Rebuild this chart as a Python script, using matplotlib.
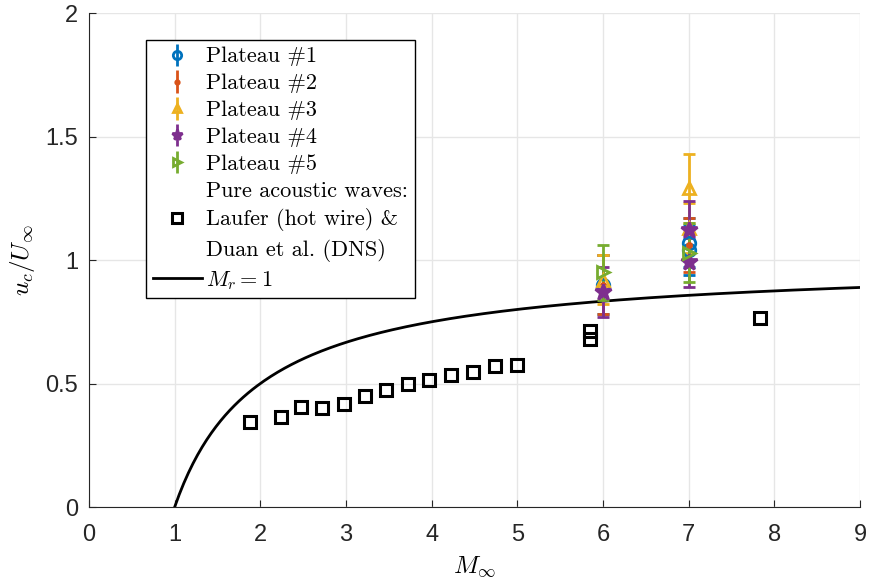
import numpy as np
import matplotlib
matplotlib.use("Agg")
import matplotlib.pyplot as plt
from matplotlib.lines import Line2D

plt.rcParams["mathtext.fontset"] = "cm"

# Laufer (hot wire) & Duan et al. (DNS)
ref_mach = [1.88, 2.24, 2.47, 2.72, 2.98, 3.22, 3.47, 3.72, 3.97, 4.23, 4.48, 4.74, 5.0, 5.85, 5.85, 7.83]
ref_uc = [0.344, 0.364, 0.405, 0.400, 0.417, 0.449, 0.472, 0.498, 0.514, 0.534, 0.547, 0.571, 0.577, 0.713, 0.680, 0.765]

# plateau measurements
p_labels = ["Plateau #1", "Plateau #2", "Plateau #3", "Plateau #4", "Plateau #5"]
p_colors = ["#0072BD", "#D95319", "#EDB120", "#7E2F8E", "#77AC30"]
p_markers = ["o", ".", "^", "*", ">"]
p_mach = [[6, 7, 7], [6, 7], [6, 7, 7], [6, 7, 7], [6, 7]]
p_uc = [[0.90, 1.07, 1.04], [0.90, 1.06], [0.92, 1.29, 1.13], [0.87, 1.12, 0.99], [0.95, 1.03]]
p_err = [[0.12, 0.10, 0.10], [0.12, 0.11], [0.10, 0.14, 0.10], [0.10, 0.12, 0.10], [0.11, 0.12]]

fig = plt.figure(figsize=(8.7, 5.84), dpi=100)
ax = fig.add_axes([0.1023, 0.1318, 0.8862, 0.8459])

handles = []
for lab, c, m, x, y, e in zip(p_labels, p_colors, p_markers, p_mach, p_uc, p_err):
    filled = m in (".", "*")
    ax.errorbar(x, y, yerr=e, color=c, marker=m, ls="none", lw=2, capsize=4, capthick=2,
                ms=12 if m == "*" else (6 if m == "." else 9),
                mfc=c if filled else "none", mec=c, mew=2, zorder=3)
    handles.append(ax.errorbar([], [], yerr=[], color=c, marker=m, ls="none", lw=2, capsize=3,
                               capthick=2, ms=8 if m == "*" else (5 if m == "." else 6),
                               mfc=c if filled else "none", mec=c, mew=2, label=lab))

ax.plot(ref_mach, ref_uc, "s", color="k", mfc="none", mew=2.2, ms=9, zorder=4)

mr = np.linspace(1, 9, 300)
ax.plot(mr, 1 - 1 / mr, color="k", lw=2, zorder=2)

ax.set_xlim(0, 9)
ax.set_ylim(0, 2)
ax.set_xticks(range(10))
ax.set_yticks([0, 0.5, 1, 1.5, 2])
ax.set_yticklabels(["0", "0.5", "1", "1.5", "2"])
ax.grid(True, color="#e6e6e6", lw=1)
ax.set_axisbelow(True)
for s in ["top", "right"]:
    ax.spines[s].set_visible(False)
for s in ["left", "bottom"]:
    ax.spines[s].set_color("#262626")
ax.tick_params(direction="in", labelsize=17, length=5, color="#262626", labelcolor="#262626")
ax.tick_params(axis="x", pad=12)
ax.tick_params(axis="y", pad=8)
for lbl in ax.get_xticklabels() + ax.get_yticklabels():
    lbl.set_family("Liberation Sans")
ax.set_xlabel(r"$M_\infty$", fontsize=18, labelpad=6)
ax.set_ylabel(r"$u_c/U_\infty$", fontsize=18, labelpad=6)

blank = Line2D([], [], ls="none")
sq = Line2D([], [], marker="s", ls="none", color="k", mfc="none", mew=2.2, ms=7)
line = Line2D([], [], color="k", lw=2)
handles += [blank, sq, blank, line]
labels = p_labels + ["Pure acoustic waves:", "Laufer (hot wire) &", "Duan et al. (DNS)", r"$M_r=1$"]
leg = ax.legend(handles, labels, loc="upper left", bbox_to_anchor=(0.074, 0.945),
                prop={"family": ["cmr10", "DejaVu Serif"], "size": 16}, frameon=True,
                fancybox=False, edgecolor="k", framealpha=1, handlelength=2.2,
                labelspacing=0.33, borderpad=0.3, borderaxespad=0, handletextpad=0.2)
leg.get_frame().set_linewidth(1)

fig.savefig("out.png", dpi=100)
